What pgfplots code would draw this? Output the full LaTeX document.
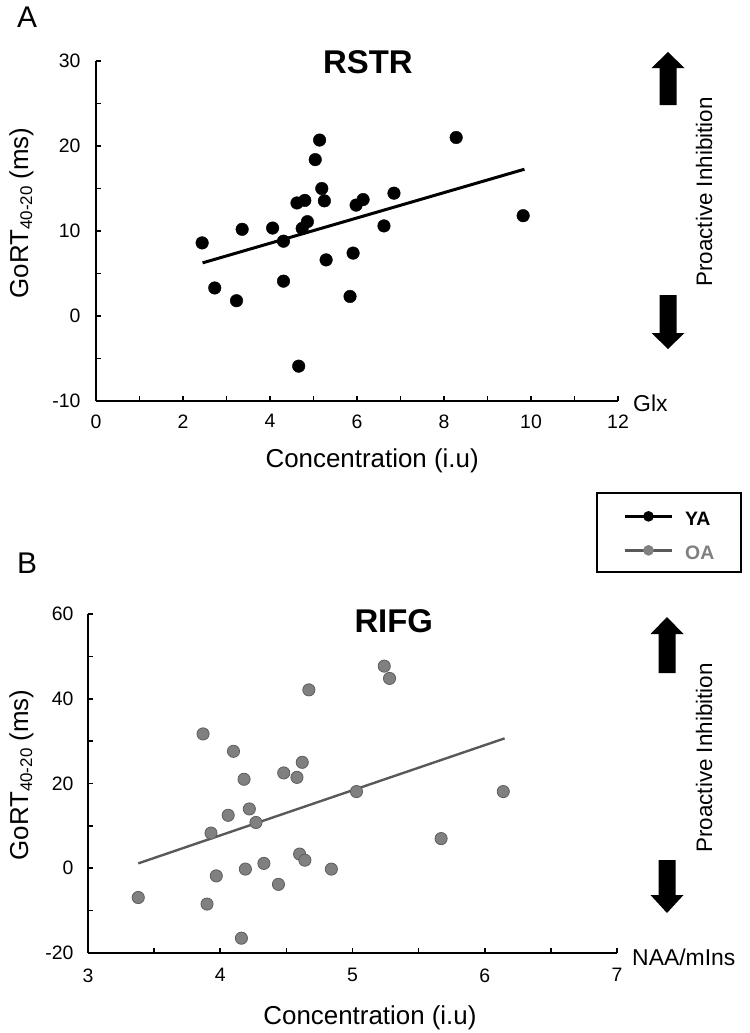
\documentclass[border=0pt]{standalone}
\usepackage{fontspec}
\setmainfont{Liberation Sans}
\usepackage{pgfplots}
\pgfplotsset{compat=1.18}
\definecolor{oafill}{HTML}{808080}
\definecolor{oaedge}{HTML}{5E5E5E}
\definecolor{oaline}{HTML}{595959}
\definecolor{oatext}{HTML}{7F7F7F}

\pgfplotsset{
  myaxis/.style={
    scale only axis, axis lines=left,
    axis line style={-, line width=2bp},
    tick align=inside, major tick length=5bp, minor tick length=5bp,
    every tick/.style={black, line width=1.6bp},
    /pgf/number format/assume math mode=true,
    xticklabel={\pgfmathprintnumber{\tick}},
    yticklabel={\pgfmathprintnumber{\tick}},
    label style={font=\fontsize{26}{28}\selectfont},
    title style={font=\fontsize{33}{36}\selectfont\bfseries},
    clip=false,
  }
}

\newcommand{\uparr}[4]{%
  \fill (#1bp-16.5bp,-#3bp) -- (#1bp,-#2bp) -- (#1bp+16.5bp,-#3bp) -- (#1bp+8.5bp,-#3bp)
    -- (#1bp+8.5bp,-#4bp) -- (#1bp-8.5bp,-#4bp) -- (#1bp-8.5bp,-#3bp) -- cycle;}
\newcommand{\downarr}[4]{%
  \fill (#1bp-8.5bp,-#2bp) -- (#1bp+8.5bp,-#2bp) -- (#1bp+8.5bp,-#3bp) -- (#1bp+16.5bp,-#3bp)
    -- (#1bp,-#4bp) -- (#1bp-16.5bp,-#3bp) -- (#1bp-8.5bp,-#3bp) -- cycle;}

\begin{document}
\begin{tikzpicture}
\path[use as bounding box] (0,0) rectangle (750bp,-1033bp);

% ---------------- Panel A ----------------
\begin{axis}[myaxis,
  at={(96bp,-401bp)}, anchor=south west,
  width=522bp, height=340bp,
  xmin=0, xmax=12, ymin=-10, ymax=30,
  xtick={0,2,...,12}, minor xtick={1,3,...,11},
  ytick={-10,0,...,30}, minor ytick={-5,5,...,25},
  xticklabel style={font=\fontsize{19.5}{21}\selectfont, yshift=-10bp},
  yticklabel style={font=\fontsize{19.5}{21}\selectfont, xshift=-12bp},
  xlabel={Concentration (i.u)},
  xlabel style={at={(axis description cs:0.529,-0.197)}, anchor=base},
  ylabel={GoRT\raisebox{-4bp}{\fontsize{17}{17}\selectfont 40-20} (ms)},
  ylabel style={at={(axis description cs:-0.130,0.553)}, anchor=base},
  title={RSTR},
  title style={at={(axis description cs:0.521,0.947)}, anchor=base},
]
\addplot[black, line width=3bp] coordinates {(2.45,6.25) (9.85,17.27)};
\addplot[only marks, mark=*, mark size=6.3bp, black] coordinates {
(2.44,8.6) (2.73,3.3) (3.23,1.8) (3.36,10.2) (4.06,10.35)
(4.31,8.8) (4.31,4.1) (4.62,13.3) (4.80,13.6) (4.74,10.3)
(4.86,11.1) (4.66,-5.9) (5.04,18.4) (5.14,20.7) (5.19,15.0)
(5.25,13.55) (5.29,6.6) (5.84,2.3) (5.91,7.4) (5.98,13.05)
(6.14,13.7) (6.62,10.6) (6.85,14.45) (8.28,21.0) (9.82,11.8)
};
\end{axis}

% ---------------- Panel B ----------------
\begin{axis}[myaxis,
  at={(88bp,-953bp)}, anchor=south west,
  width=529bp, height=339bp,
  xmin=3, xmax=7, ymin=-20, ymax=60,
  xtick={3,4,...,7}, minor xtick={3.5,4.5,...,6.5},
  ytick={-20,0,...,60}, minor ytick={-10,10,...,50},
  xticklabel style={font=\fontsize{19.5}{21}\selectfont, yshift=-12bp},
  yticklabel style={font=\fontsize{19.5}{21}\selectfont, xshift=-11bp},
  xlabel={Concentration (i.u)},
  xlabel style={at={(axis description cs:0.533,-0.212)}, anchor=base},
  ylabel={GoRT\raisebox{-4bp}{\fontsize{17}{17}\selectfont 40-20} (ms)},
  ylabel style={at={(axis description cs:-0.113,0.525)}, anchor=base},
  title={RIFG},
  title style={at={(axis description cs:0.578,0.929)}, anchor=base},
  legend style={at={(0.960,1.360)}, anchor=north west,
    draw=black, line width=1.8bp,
    font=\fontsize{19.5}{22}\selectfont\bfseries,
    nodes={inner sep=0pt, text height=21bp, text depth=0bp},
    row sep=13bp, inner xsep=27bp, inner ysep=12bp,
    /tikz/every odd column/.append style={column sep=12bp}},
  legend cell align=left,
  legend image code/.code={\draw[#1, mark repeat=2, mark phase=2]
     plot coordinates {(0bp,-1bp) (23.5bp,-1bp) (47bp,-1bp)};},
]
\addlegendimage{black, line width=2.5bp, mark=*, mark size=4bp, mark options={solid}}
\addlegendentry{YA}
\addlegendimage{oaline, line width=2.5bp, mark=*, mark size=4bp, mark options={solid, fill=oafill, draw=oafill}}
\addlegendentry{\textcolor{oatext}{OA}}
\addplot[oaline, line width=2.4bp, forget plot] coordinates {(3.38,1.15) (6.15,30.65)};
\addplot[only marks, mark=*, mark size=6.1bp, forget plot,
  mark options={fill=oafill, draw=oaedge, line width=0.8bp}] coordinates {
(3.38,-6.9) (3.87,31.7) (3.90,-8.45) (3.93,8.3) (3.97,-1.8)
(4.06,12.5) (4.10,27.6) (4.16,-16.5) (4.18,21.0) (4.19,-0.2)
(4.22,14.0) (4.27,10.8) (4.33,1.15) (4.44,-3.8) (4.48,22.5)
(4.58,21.45) (4.62,25.0) (4.60,3.35) (4.64,1.9) (4.67,42.1)
(4.84,-0.2) (5.03,18.1) (5.24,47.7) (5.28,44.8) (5.67,7.0)
(6.14,18.1)
};
\end{axis}

% ---------------- Annotations ----------------
\node[anchor=base west, inner sep=0pt, font=\fontsize{30}{32}\selectfont] at (17bp,-27bp) {A};
\node[anchor=base west, inner sep=0pt, font=\fontsize{30}{32}\selectfont] at (17bp,-573bp) {B};

\node[anchor=base west, inner sep=0pt, font=\fontsize{23}{25}\selectfont] at (633bp,-411bp) {Glx};
\node[anchor=base west, inner sep=0pt, font=\fontsize{23}{25}\selectfont] at (632bp,-965bp) {NAA/mIns};

\node[rotate=90, anchor=base, inner sep=0pt, font=\fontsize{22.5}{24}\selectfont] at (712bp,-192bp) {Proactive Inhibition};
\node[rotate=90, anchor=base, inner sep=0pt, font=\fontsize{22.5}{24}\selectfont] at (712bp,-758bp) {Proactive Inhibition};

\uparr{668}{52}{68}{105}
\downarr{668}{295}{333}{349}
\uparr{667}{617}{634}{673}
\downarr{667}{860}{895}{913}
\end{tikzpicture}
\end{document}
